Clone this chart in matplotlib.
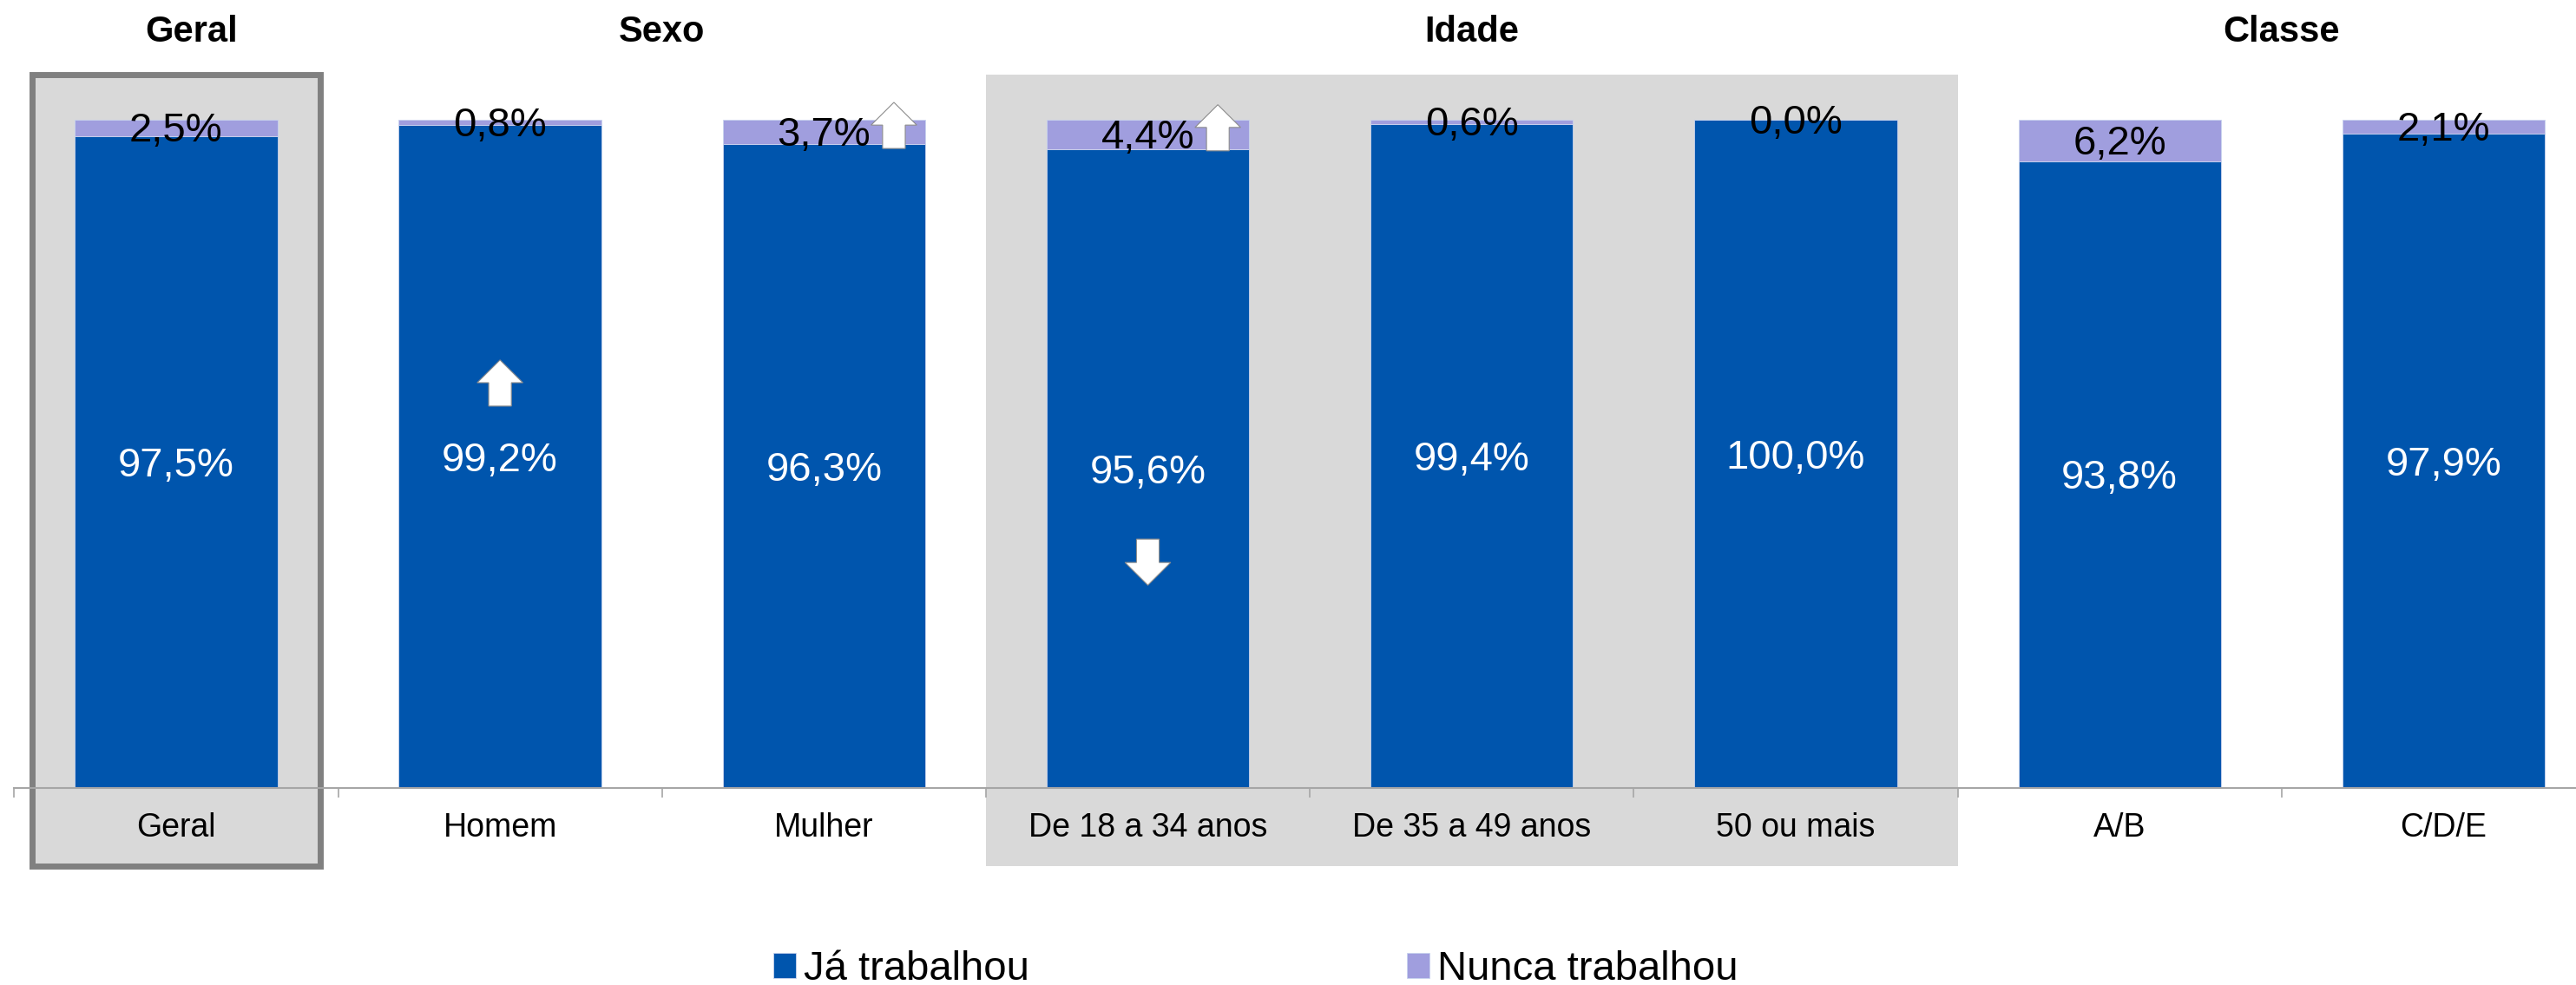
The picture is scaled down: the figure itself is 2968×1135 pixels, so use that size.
import matplotlib.pyplot as plt
from matplotlib.patches import Rectangle, Polygon
import numpy as np

plt.rcParams['font.family'] = ['Liberation Sans', 'DejaVu Sans']

categories = ["Geral", "Homem", "Mulher", "De 18 a 34 anos", "De 35 a 49 anos",
              "50 ou mais", "A/B", "C/D/E"]
ja_trabalhou = [97.5, 99.2, 96.3, 95.6, 99.4, 100.0, 93.8, 97.9]
nunca_trabalhou = [2.5, 0.8, 3.7, 4.4, 0.6, 0.0, 6.2, 2.1]
groups = ["Geral", "Sexo", "Idade", "Classe"]
group_members = [[0], [1, 2], [3, 4, 5], [6, 7]]
# significance arrows: (category index, series, direction)
arrows = [(1, "ja", "up"), (2, "nunca", "up"), (3, "nunca", "up"), (3, "ja", "down")]

BLUE = "#0055AD"
LILAC = "#A09EDE"
GREY_BG = "#D9D9D9"

W, H = 2968, 1135
fig = plt.figure(figsize=(W / 100, H / 100), dpi=100)
# axes laid out so that the baseline and bar tops fall where the original puts them
ax = fig.add_axes([16.3 / W, 0, (3002 - 16.3) / W, 1])
ax.set_xlim(-0.5, 7.5)
ax.set_ylim(-29.48, 117.92)

x = np.arange(len(categories))
bw = 0.625

# grey backgrounds
ax.add_patch(Rectangle((2.5, -11.7), 3.0, 118.4, facecolor=GREY_BG, edgecolor="none", zorder=0))
ax.add_patch(Rectangle((-0.445, -11.7), 0.89, 118.4, facecolor=GREY_BG, edgecolor="#808080",
                       linewidth=5, zorder=0.5))

ax.bar(x, ja_trabalhou, bw, color=BLUE, edgecolor="#C9D3EE", linewidth=0.6,
       label="Já trabalhou", zorder=2)
ax.bar(x, nunca_trabalhou, bw, bottom=ja_trabalhou, color=LILAC, edgecolor="#C9D3EE",
       linewidth=0.6, label="Nunca trabalhou", zorder=2)

fmt = lambda v: f"{v:.1f}%".replace(".", ",")
for i in x:
    ax.text(i, ja_trabalhou[i] / 2 - 0.6, fmt(ja_trabalhou[i]), ha="center", va="center",
            color="white", fontsize=34, zorder=4)
    ax.text(i, ja_trabalhou[i] + nunca_trabalhou[i] / 2 - 0.5, fmt(nunca_trabalhou[i]),
            ha="center", va="center", color="black", fontsize=34, zorder=4)


def block_arrow(cx, cy, up=True):
    hw, sw = 0.0705, 0.035        # half widths of head and shaft (category units)
    hh, th = 3.4, 6.9             # head height and total height (value units)
    s = 1 if up else -1
    top = cy + s * th / 2
    base = top - s * hh
    bottom = cy - s * th / 2
    pts = [(cx, top), (cx + hw, base), (cx + sw, base), (cx + sw, bottom),
           (cx - sw, bottom), (cx - sw, base), (cx - hw, base)]
    ax.add_patch(Polygon(pts, closed=True, facecolor="white", edgecolor="#8C8C8C",
                         linewidth=0.8, zorder=5))


for i, series, d in arrows:
    if series == "ja":
        cy = ja_trabalhou[i] / 2 + (11 if d == "up" else -14)
        block_arrow(i, cy, d == "up")
    else:
        block_arrow(i + 0.216, ja_trabalhou[i] + nunca_trabalhou[i] / 2 + 1.0, d == "up")

# group titles
for name, members in zip(groups, group_members):
    gx = np.mean(members) + (0.048 if len(members) == 1 else 0)
    ax.text(gx, 113.1, name, ha="center", va="center", fontsize=30, fontweight="bold")

# axis
for s in ["top", "right", "left"]:
    ax.spines[s].set_visible(False)
ax.spines["bottom"].set_position(("data", 0))
ax.spines["bottom"].set_color("#A6A6A6")
ax.spines["bottom"].set_linewidth(1.5)
ax.spines["bottom"].set_zorder(3)
ax.set_yticks([])
ax.set_xticks(x, categories, fontsize=27)
ax.set_xticks(np.arange(-0.5, 8.0, 1.0), minor=True)
ax.tick_params(axis="x", which="major", length=0, pad=20)
ax.tick_params(axis="x", which="minor", length=8, width=1.2, color="#A6A6A6", direction="out")
ax.patch.set_alpha(0)

fig.legend(loc="center left", bbox_to_anchor=(891 / W, 18 / H), ncol=2, frameon=False,
           fontsize=34, handlelength=0.55, handleheight=0.55, handletextpad=0.2,
           columnspacing=9.2, borderpad=0, borderaxespad=0)

fig.savefig("out.png", dpi=100)
